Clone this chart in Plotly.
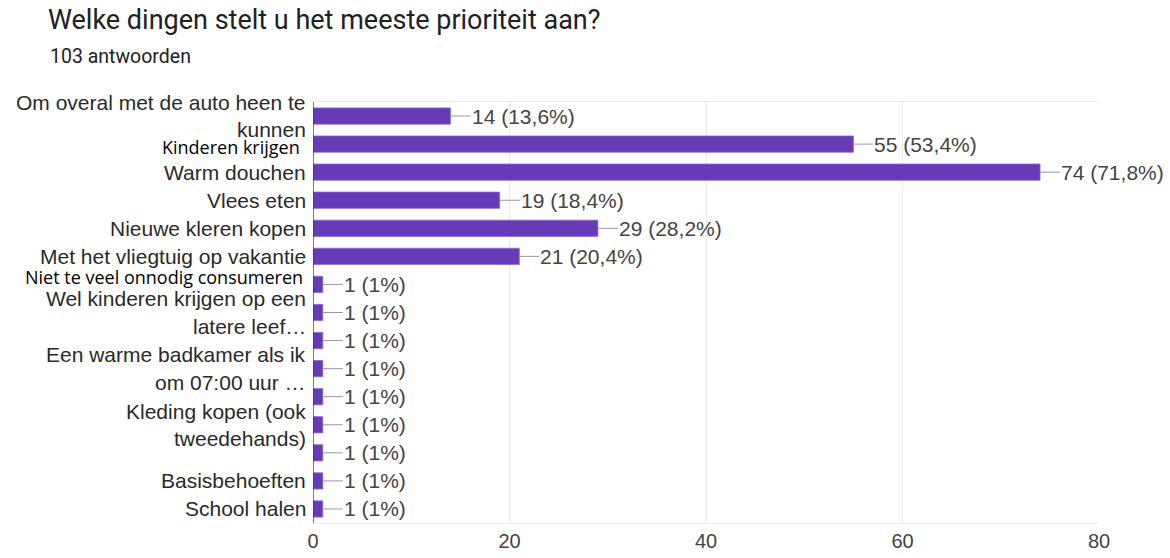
import plotly.graph_objects as go

# ---- data ----
title = "Welke dingen stelt u het meeste prioriteit aan?"
subtitle = "103 antwoorden"
label_lines = [
    ["Om overal met de auto heen te", "kunnen"],
    ["Kinderen krijgen"],
    ["Warm douchen"],
    ["Vlees eten"],
    ["Nieuwe kleren kopen"],
    ["Met het vliegtuig op vakantie"],
    ["Niet te veel onnodig consumeren"],
    ["Wel kinderen krijgen op een", "latere leef…"],
    [],
    ["Een warme badkamer als ik", "om 07:00 uur …"],
    [],
    ["Kleding kopen (ook", "tweedehands)"],
    [],
    ["Basisbehoeften"],
    ["School halen"],
]
counts = [14, 55, 74, 19, 29, 21, 1, 1, 1, 1, 1, 1, 1, 1, 1]
percent_text = ["13,6%", "53,4%", "71,8%", "18,4%", "28,2%", "20,4%",
                "1%", "1%", "1%", "1%", "1%", "1%", "1%", "1%", "1%"]
x_ticks = [0, 20, 40, 60, 80]

# ---- layout constants ----
W, H = 1170, 558
ML, MR, MT, MB = 313, 71, 102, 35
PW, PH = W - ML - MR, H - MT - MB

# overlay-style labels (pasted text in the reference)
overlay = {1: dict(yshift=-3, xshift=-11), 6: dict(yshift=7, xshift=-8)}

idx = list(range(len(counts)))
purple = "#673ab7"
font_main = "Liberation Sans, Arial, sans-serif"

fig = go.Figure(go.Bar(
    x=counts, y=idx, orientation="h", width=0.58,
    marker=dict(color=purple, line=dict(color="#8e6bd0", width=0.8)),
    hoverinfo="skip",
))

ann = []
for i, lines in enumerate(label_lines):
    n = len(lines)
    for j, t in enumerate(lines):
        off = (j - (n - 1) / 2) * 0.98
        if i in overlay:
            ann.append(dict(x=0, xref="paper", y=i + off, yref="y", text=t,
                            showarrow=False, xanchor="right", yanchor="middle",
                            xshift=overlay[i]["xshift"], yshift=overlay[i]["yshift"],
                            font=dict(family="Open Sans, Noto Sans, sans-serif", size=18, color="#000000")))
        else:
            ann.append(dict(x=0, xref="paper", y=i + off, yref="y", text=t,
                            showarrow=False, xanchor="right", yanchor="middle",
                            xshift=-5,
                            font=dict(family=font_main, size=21, color="#2a2a2a")))
for i, (c, p) in enumerate(zip(counts, percent_text)):
    ann.append(dict(x=c, y=i, xref="x", yref="y", text=f"{c} ({p})",
                    showarrow=True, arrowhead=0, arrowwidth=1, arrowcolor="#999999",
                    ax=20, ay=0, xanchor="left", yanchor="middle", standoff=0,
                    borderpad=0,
                    font=dict(family=font_main, size=21, color="#444444")))
ann.append(dict(x=(48 - ML) / PW, y=(H - MB - 56) / PH, xref="paper", yref="paper",
                xanchor="left", yanchor="middle", text=subtitle, showarrow=False,
                font=dict(family="Roboto, sans-serif", size=19.5, color="#202124")))

fig.update_layout(
    annotations=ann,
    width=W, height=H,
    margin=dict(l=ML, r=MR, t=MT, b=MB),
    paper_bgcolor="white", plot_bgcolor="white",
    showlegend=False,
    title=dict(text=title, x=48 / W, xanchor="left", y=1 - 20 / H, yanchor="middle",
               font=dict(family="Roboto, sans-serif", size=27, color="#202124")),
    xaxis=dict(range=[0, 80], tickvals=x_ticks, showgrid=True, gridcolor="#ebebeb",
               gridwidth=1, zeroline=False, showline=True, linecolor="#ebebeb", mirror=True,
               ticks="", automargin=False,
               tickfont=dict(family=font_main, size=20, color="#444444")),
    yaxis=dict(range=[14.5, -0.5], showticklabels=False, showgrid=False, zeroline=False,
               showline=False, ticks="", automargin=False),
)
fig.add_shape(type="line", xref="x", yref="paper", x0=0, x1=0, y0=0, y1=1,
              line=dict(color="#333333", width=1.3))
fig.write_html("out.html")
